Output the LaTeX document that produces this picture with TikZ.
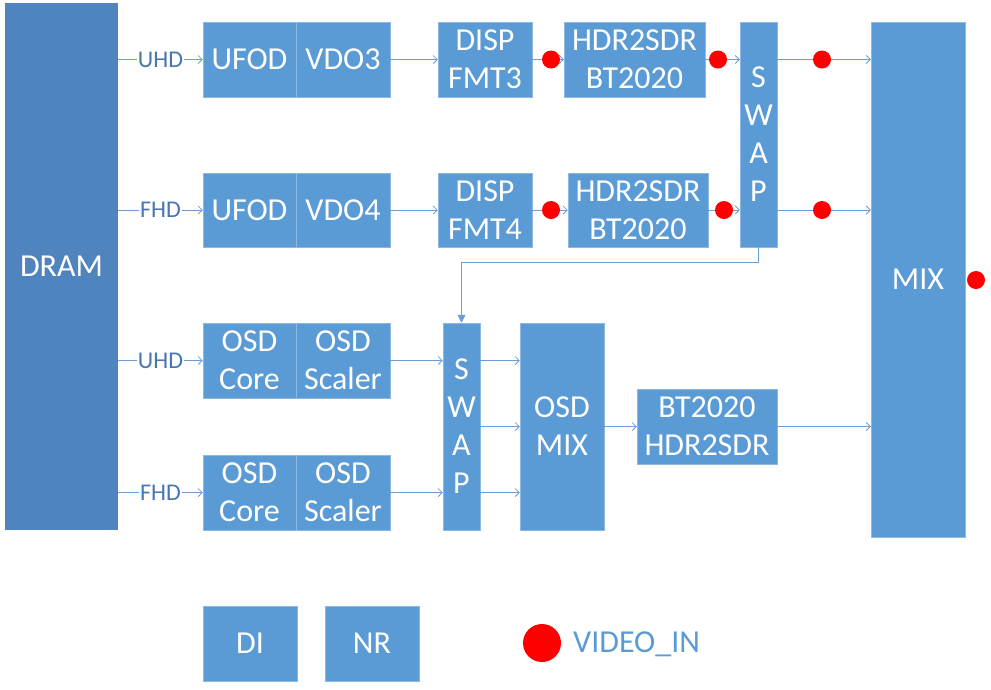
\documentclass[tikz,border=0pt]{standalone}
\usepackage{fontspec}
\setmainfont{Carlito}
\usetikzlibrary{arrows.meta}
\definecolor{boxblue}{HTML}{5B9BD5}
\definecolor{dramblue}{HTML}{4F84BF}
\definecolor{lineblue}{HTML}{6A9FD6}
\definecolor{lblblue}{HTML}{4A76B0}
\definecolor{edgeblue}{HTML}{8DB8E3}
\begin{document}
\begin{tikzpicture}[x=1pt,y=-1pt,
  blk/.style={rectangle, fill=boxblue, draw=edgeblue, line width=0.5pt, text=white,
    font=\fontsize{32}{38}\selectfont, align=center, inner sep=0pt},
  arr/.style={draw=lineblue, line width=0.8pt, -{Straight Barb[length=4pt,width=8pt]}},
  plain/.style={draw=lineblue, line width=0.8pt},
  arrfill/.style={draw=lineblue, line width=0.8pt, -{Triangle[length=8pt,width=8pt]}},
  lbl/.style={fill=white, text=lblblue, inner sep=1pt, font=\fontsize{24}{26}\selectfont},
  vdot/.style={circle, fill=red, draw=none, minimum size=18pt, inner sep=0pt}
]
\useasboundingbox (0,0) rectangle (991,689);

% DRAM
\node[blk, fill=dramblue, draw=none, minimum width=113pt, minimum height=527pt] (dram) at (61.5,266.5) {DRAM};

% row 1
\node[blk, minimum width=93pt, minimum height=75pt] (ufod1) at (249.5,59.5) {UFOD};
\node[blk, minimum width=94pt, minimum height=75pt] (vdo3) at (343,59.5) {VDO3};
\node[blk, minimum width=94pt, minimum height=75pt] (disp3) at (485,59.5) {DISP\\FMT3};
\node[blk, minimum width=141pt, minimum height=75pt] (hdr1) at (634.5,59.5) {HDR2SDR\\BT2020};

% row 2
\node[blk, minimum width=93pt, minimum height=74pt] (ufod2) at (249.5,210) {UFOD};
\node[blk, minimum width=94pt, minimum height=74pt] (vdo4) at (343,210) {VDO4};
\node[blk, minimum width=94pt, minimum height=74pt] (disp4) at (485,210) {DISP\\FMT4};
\node[blk, minimum width=140pt, minimum height=74pt] (hdr2) at (638,210) {HDR2SDR\\BT2020};

% swap 1
\node[blk, minimum width=37pt, minimum height=225pt] (swap1) at (758.5,134.5) {S\\W\\A\\P};

% MIX
\node[blk, minimum width=94pt, minimum height=515pt] (mix) at (918,279.5) {MIX};
\node[vdot] (mixout) at (976,280) {};

% row 3 / 4
\node[blk, minimum width=93pt, minimum height=75pt] (core1) at (249.5,360.5) {OSD\\Core};
\node[blk, minimum width=94pt, minimum height=75pt] (scal1) at (343,360.5) {OSD\\Scaler};
\node[blk, minimum width=93pt, minimum height=75pt] (core2) at (249.5,492.5) {OSD\\Core};
\node[blk, minimum width=94pt, minimum height=75pt] (scal2) at (343,492.5) {OSD\\Scaler};

\node[blk, minimum width=37pt, minimum height=207pt] (swap2) at (461.5,426.5) {S\\W\\A\\P};
\node[blk, minimum width=84pt, minimum height=207pt] (osdmix) at (562,426.5) {OSD\\MIX};
\node[blk, minimum width=140pt, minimum height=75pt] (bt) at (707,426.5) {BT2020\\HDR2SDR};

% bottom
\node[blk, minimum width=94pt, minimum height=75pt] (di) at (250,643.5) {DI};
\node[blk, minimum width=94pt, minimum height=75pt] (nr) at (372,643.5) {NR};
\node[circle, fill=red, draw=none, minimum size=38pt, inner sep=0pt] (legdot) at (542,643) {};
\node[anchor=west, text=boxblue, inner sep=0pt, font=\fontsize{32}{36}\selectfont] (legtxt) at (573,644) {VIDEO\_IN};

% dots on paths
\node[vdot] (d1) at (551,59.5) {};
\node[vdot] (d2) at (718,59.5) {};
\node[vdot] (d3) at (822,59.5) {};
\node[vdot] (d4) at (551,210) {};
\node[vdot] (d5) at (724,210) {};
\node[vdot] (d6) at (822,210) {};

% connectors row 1
\draw[arr] (dram.east |- ufod1.west) -- node[lbl]{UHD} (ufod1.west);
\draw[arr] (vdo3.east) -- (disp3.west);
\draw[plain] (disp3.east) -- (d1);
\draw[arr] (d1) -- (hdr1.west);
\draw[plain] (hdr1.east) -- (d2);
\draw[arr] (d2) -- (d2 -| swap1.west);
\draw[plain] (swap1.east |- d3) -- (d3);
\draw[arr] (d3) -- (d3 -| mix.west);

% connectors row 2
\draw[arr] (dram.east |- ufod2.west) -- node[lbl]{FHD} (ufod2.west);
\draw[arr] (vdo4.east) -- (disp4.west);
\draw[plain] (disp4.east) -- (d4);
\draw[arr] (d4) -- (hdr2.west);
\draw[plain] (hdr2.east) -- (d5);
\draw[arr] (d5) -- (d5 -| swap1.west);
\draw[plain] (swap1.east |- d6) -- (d6);
\draw[arr] (d6) -- (d6 -| mix.west);

% swap1 to swap2
\draw[arrfill] (swap1.south) -- ++(0,15) -| (swap2.north);

% rows 3/4
\draw[arr] (dram.east |- core1.west) -- node[lbl]{UHD} (core1.west);
\draw[arr] (dram.east |- core2.west) -- node[lbl]{FHD} (core2.west);
\draw[arr] (scal1.east) -- (scal1.east -| swap2.west);
\draw[arr] (scal2.east) -- (scal2.east -| swap2.west);
\draw[arr] (swap2.east |- scal1.east) -- (osdmix.west |- scal1.east);
\draw[arr] (swap2.east) -- (osdmix.west);
\draw[arr] (swap2.east |- scal2.east) -- (osdmix.west |- scal2.east);
\draw[arr] (osdmix.east |- bt.west) -- (bt.west);
\draw[arr] (bt.east) -- (mix.west |- bt.east);
\end{tikzpicture}
\end{document}
